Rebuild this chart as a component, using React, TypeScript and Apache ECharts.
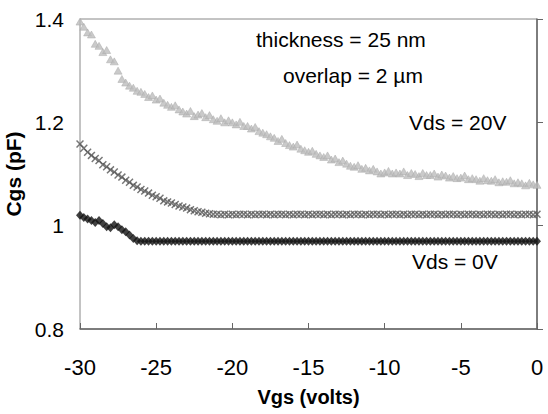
import React, { useEffect, useRef } from "react";
import * as echarts from "echarts";

const VGS = [
  -30, -29.75, -29.5, -29.25, -29, -28.75, -28.5, -28.25, -28, -27.75, -27.5, -27.25,
  -27, -26.75, -26.5, -26.25, -26, -25.75, -25.5, -25.25, -25, -24.75, -24.5, -24.25,
  -24, -23.75, -23.5, -23.25, -23, -22.75, -22.5, -22.25, -22, -21.75, -21.5, -21.25,
  -21, -20.75, -20.5, -20.25, -20, -19.75, -19.5, -19.25, -19, -18.75, -18.5, -18.25,
  -18, -17.75, -17.5, -17.25, -17, -16.75, -16.5, -16.25, -16, -15.75, -15.5, -15.25,
  -15, -14.75, -14.5, -14.25, -14, -13.75, -13.5, -13.25, -13, -12.75, -12.5, -12.25,
  -12, -11.75, -11.5, -11.25, -11, -10.75, -10.5, -10.25, -10, -9.75, -9.5, -9.25,
  -9, -8.75, -8.5, -8.25, -8, -7.75, -7.5, -7.25, -7, -6.75, -6.5, -6.25,
  -6, -5.75, -5.5, -5.25, -5, -4.75, -4.5, -4.25, -4, -3.75, -3.5, -3.25,
  -3, -2.75, -2.5, -2.25, -2, -1.75, -1.5, -1.25, -1, -0.75, -0.5, -0.25, 0,
];

// Vds = 20V (triangles)
const CGS_VDS20 = [
  1.395, 1.385, 1.374, 1.37, 1.352, 1.348, 1.336, 1.34, 1.322, 1.318, 1.3, 1.284,
  1.277, 1.271, 1.267, 1.261, 1.259, 1.255, 1.249, 1.252, 1.244, 1.246, 1.238, 1.234,
  1.23, 1.233, 1.225, 1.221, 1.217, 1.222, 1.212, 1.215, 1.218, 1.21, 1.214, 1.206,
  1.203, 1.208, 1.2, 1.204, 1.2, 1.196, 1.201, 1.193, 1.193, 1.188, 1.191, 1.183,
  1.18, 1.177, 1.173, 1.17, 1.164, 1.168, 1.16, 1.156, 1.153, 1.157, 1.149, 1.146,
  1.143, 1.145, 1.139, 1.136, 1.133, 1.136, 1.128, 1.13, 1.123, 1.126, 1.12, 1.116,
  1.114, 1.117, 1.11, 1.112, 1.107, 1.11, 1.105, 1.101, 1.103, 1.106, 1.101, 1.103,
  1.101, 1.105, 1.098, 1.102, 1.1, 1.096, 1.102, 1.098, 1.098, 1.101, 1.095, 1.099,
  1.097, 1.093, 1.096, 1.092, 1.093, 1.097, 1.09, 1.092, 1.09, 1.087, 1.092, 1.088,
  1.087, 1.09, 1.084, 1.086, 1.085, 1.088, 1.082, 1.084, 1.082, 1.078, 1.083, 1.08, 1.079,
];

// Intermediate bias (crosses)
const CGS_MID = [
  1.158, 1.15, 1.142, 1.136, 1.13, 1.126, 1.118, 1.114, 1.108, 1.104, 1.098, 1.094,
  1.088, 1.084, 1.078, 1.075, 1.07, 1.067, 1.063, 1.059, 1.056, 1.053, 1.048, 1.046,
  1.044, 1.041, 1.038, 1.036, 1.034, 1.031, 1.029, 1.027, 1.026, 1.024, 1.023, 1.022,
  1.022, 1.021, 1.022, 1.021, 1.022, 1.021, 1.022, 1.022, 1.021, 1.022, 1.021, 1.022,
  1.022, 1.021, 1.022, 1.021, 1.022, 1.022, 1.021, 1.022, 1.021, 1.022, 1.022, 1.021,
  1.022, 1.021, 1.022, 1.022, 1.021, 1.022, 1.021, 1.022, 1.022, 1.021, 1.022, 1.021,
  1.022, 1.022, 1.021, 1.022, 1.021, 1.022, 1.022, 1.021, 1.022, 1.021, 1.022, 1.022,
  1.021, 1.022, 1.021, 1.022, 1.022, 1.021, 1.022, 1.021, 1.022, 1.022, 1.021, 1.022,
  1.021, 1.022, 1.022, 1.021, 1.022, 1.021, 1.022, 1.022, 1.021, 1.022, 1.021, 1.022,
  1.022, 1.021, 1.022, 1.021, 1.022, 1.022, 1.021, 1.022, 1.021, 1.022, 1.022, 1.021, 1.022,
];

// Vds = 0V (diamonds)
const CGS_VDS0 = [
  1.02, 1.016, 1.013, 1.01, 1.006, 1.01, 1.004, 0.998, 0.996, 1.002, 0.998, 0.992,
  0.988, 0.982, 0.975, 0.971, 0.97, 0.97, 0.97, 0.97, 0.97, 0.97, 0.97, 0.97,
  0.97, 0.97, 0.97, 0.97, 0.97, 0.97, 0.97, 0.97, 0.97, 0.97, 0.97, 0.97,
  0.97, 0.97, 0.97, 0.97, 0.97, 0.97, 0.97, 0.97, 0.97, 0.97, 0.97, 0.97,
  0.97, 0.97, 0.97, 0.97, 0.97, 0.97, 0.97, 0.97, 0.97, 0.97, 0.97, 0.97,
  0.97, 0.97, 0.97, 0.97, 0.97, 0.97, 0.97, 0.97, 0.97, 0.97, 0.97, 0.97,
  0.97, 0.97, 0.97, 0.97, 0.97, 0.97, 0.97, 0.97, 0.97, 0.97, 0.97, 0.97,
  0.97, 0.97, 0.97, 0.97, 0.97, 0.97, 0.97, 0.97, 0.97, 0.97, 0.97, 0.97,
  0.97, 0.97, 0.97, 0.97, 0.97, 0.97, 0.97, 0.97, 0.97, 0.97, 0.97, 0.97,
  0.97, 0.97, 0.97, 0.97, 0.97, 0.97, 0.97, 0.97, 0.97, 0.97, 0.97, 0.97, 0.97,
];

const X_TICKS = [-30, -25, -20, -15, -10, -5, 0];
const Y_TICKS = [0.8, 1, 1.2, 1.4];

const ANNOTATIONS = [
  { text: "thickness = 25 nm", left: 256, top: 40 },
  { text: "overlap = 2 \u00b5m", left: 283, top: 76 },
  { text: "Vds = 20V", left: 409, top: 123 },
  { text: "Vds = 0V", left: 412, top: 262 },
];

const FONT = "'Liberation Sans', Arial, sans-serif";
const CROSS =
  "path://M0,1.3 L1.3,0 L5,3.7 L8.7,0 L10,1.3 L6.3,5 L10,8.7 L8.7,10 L5,6.3 L1.3,10 L0,8.7 L3.7,5 Z";

const pairs = (ys: number[]) => VGS.map((x, i) => [x, ys[i]]);

export default function App() {
  const ref = useRef<HTMLDivElement>(null);
  useEffect(() => {
    if (!ref.current) return;
    const chart = echarts.init(ref.current, undefined, { renderer: "svg" });
    chart.setOption({
      animation: false,
      backgroundColor: "#ffffff",
      grid: {
        left: 80,
        right: 11,
        top: 19,
        bottom: 85,
        containLabel: false,
        outerBoundsMode: "none",
        show: true,
        borderColor: "#888",
        borderWidth: 1,
      },
      xAxis: {
        type: "value",
        min: X_TICKS[0],
        max: X_TICKS[X_TICKS.length - 1],
        interval: 5,
        name: "Vgs (volts)",
        nameLocation: "middle",
        nameGap: 58,
        nameTextStyle: { fontFamily: FONT, fontSize: 20, fontWeight: "bold", color: "#000" },
        axisLine: { lineStyle: { color: "#666", width: 1.5 } },
        axisTick: { inside: true, length: 6, lineStyle: { color: "#666" } },
        axisLabel: { fontFamily: FONT, fontSize: 22, color: "#000", margin: 27 },
        splitLine: { show: false },
      },
      yAxis: {
        type: "value",
        min: Y_TICKS[0],
        max: Y_TICKS[Y_TICKS.length - 1],
        interval: 0.2,
        name: "Cgs (pF)",
        nameLocation: "middle",
        nameGap: 45,
        nameTextStyle: { fontFamily: FONT, fontSize: 21, fontWeight: "bold", color: "#000" },
        axisLine: { show: true, lineStyle: { color: "#666", width: 1.5 } },
        axisTick: { show: true, inside: true, length: 6, lineStyle: { color: "#666" } },
        axisLabel: {
          fontFamily: FONT,
          fontSize: 21,
          color: "#000",
          margin: 16,
          formatter: (v: number) => String(Math.round(v * 10) / 10),
        },
        splitLine: { show: false },
      },
      series: [
        {
          name: "Vds = 20V",
          type: "scatter",
          data: pairs(CGS_VDS20),
          symbol: "triangle",
          symbolSize: [8, 7],
          itemStyle: { color: "#bdbdbd", borderColor: "#a8a8a8", borderWidth: 0.6 },
        },
        {
          name: "Vds mid",
          type: "scatter",
          data: pairs(CGS_MID),
          symbol: CROSS,
          symbolSize: 8,
          itemStyle: { color: "#555" },
        },
        {
          name: "Vds = 0V",
          type: "scatter",
          data: pairs(CGS_VDS0),
          symbol: "diamond",
          symbolSize: [8, 9],
          itemStyle: { color: "#111" },
        },
      ],
      graphic: ANNOTATIONS.map((a) => ({
        type: "text",
        left: a.left,
        top: a.top - 11,
        style: { text: a.text, fontFamily: FONT, fontSize: 21, fill: "#000" },
      })),
    });
    return () => chart.dispose();
  }, []);
  return (
    <div
      ref={ref}
      style={{ position: "absolute", left: 0, top: 0, width: 548, height: 414 }}
    />
  );
}
